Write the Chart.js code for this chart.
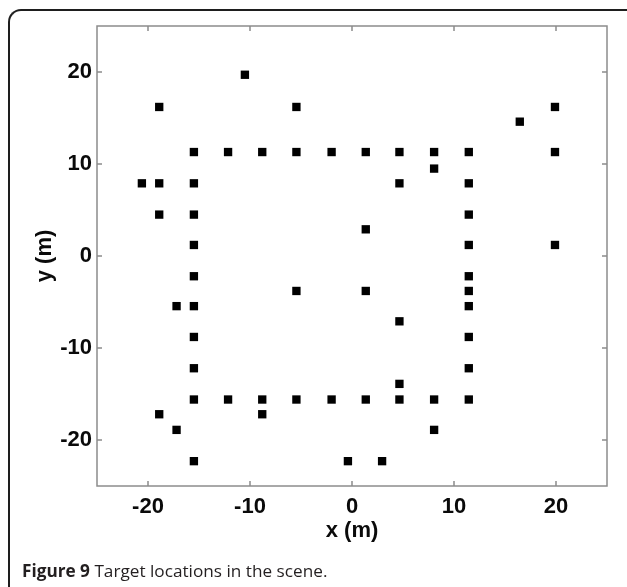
<!DOCTYPE html>
<html>
<head>
<meta charset="utf-8">
<script src="https://cdn.jsdelivr.net/npm/chart.js@4"></script>
<style>
  html, body { margin: 0; padding: 0; background: #ffffff; }
  body { width: 627px; height: 587px; overflow: hidden; position: relative; }
  .frame {
    position: absolute; left: 8px; top: 9px; width: 660px; height: 640px;
    border-left: 2px solid #1e1e1e; border-top: 2px solid #1e1e1e;
    border-top-left-radius: 13px;
  }
  #plot { position: absolute; left: 0; top: 0; }
  .caption {
    position: absolute; left: 22px; top: 559px;
    font-family: "Open Sans", "Noto Sans", sans-serif; font-size: 17.2px; color: #231f20;
    white-space: nowrap;
  }
  .caption b { font-weight: bold; }
</style>
</head>
<body>
<div class="frame"></div>
<canvas id="plot" width="627" height="587"></canvas>
<div class="caption"><b>Figure 9</b> Target locations in the scene.</div>
<script>
// target positions (m)
const xs = [
  -10.5,
  -18.9, -5.45, 19.9,
  16.45,
  -15.5, -12.15, -8.8, -5.45, -2.0, 1.35, 4.65, 8.05, 11.45, 19.9,
  8.05,
  -20.6, -18.9, -15.5, 4.65, 11.45,
  -18.9, -15.5, 11.45,
  1.35,
  -15.5, 11.45, 19.9,
  -15.5, 11.45,
  -5.45, 1.35, 11.45,
  -17.2, -15.5, 11.45,
  4.65,
  -15.5, 11.45,
  -15.5, 11.45,
  4.65,
  -15.5, -12.15, -8.8, -5.45, -2.0, 1.35, 4.65, 8.05, 11.45,
  -18.9, -8.8,
  -17.2, 8.05,
  -15.5, -0.4, 2.95
];
const ys = [
  19.7,
  16.2, 16.2, 16.2,
  14.6,
  11.3, 11.3, 11.3, 11.3, 11.3, 11.3, 11.3, 11.3, 11.3, 11.3,
  9.5,
  7.9, 7.9, 7.9, 7.9, 7.9,
  4.5, 4.5, 4.5,
  2.9,
  1.2, 1.2, 1.2,
  -2.2, -2.2,
  -3.8, -3.8, -3.8,
  -5.45, -5.45, -5.45,
  -7.1,
  -8.8, -8.8,
  -12.2, -12.2,
  -13.9,
  -15.6, -15.6, -15.6, -15.6, -15.6, -15.6, -15.6, -15.6, -15.6,
  -17.2, -17.2,
  -18.9, -18.9,
  -22.3, -22.3, -22.3
];
const xTicks = [-20, -10, 0, 10, 20];
const yTicks = [-20, -10, 0, 10, 20];
const xRange = [-25, 25];
const yRange = [-25, 25];

const points = xs.map((x, i) => ({ x: x, y: ys[i] }));

// matlab style box with inward ticks
const boxPlugin = {
  id: 'box',
  afterDatasetsDraw(chart) {
    const ctx = chart.ctx;
    const a = chart.chartArea;
    const sx = chart.scales.x, sy = chart.scales.y;
    ctx.save();
    ctx.strokeStyle = '#8c8c8c';
    ctx.lineWidth = 1.5;
    ctx.strokeRect(a.left, a.top, a.right - a.left, a.bottom - a.top);
    ctx.beginPath();
    xTicks.forEach(v => {
      const px = sx.getPixelForValue(v);
      ctx.moveTo(px, a.bottom); ctx.lineTo(px, a.bottom - 5);
      ctx.moveTo(px, a.top); ctx.lineTo(px, a.top + 5);
    });
    yTicks.forEach(v => {
      const py = sy.getPixelForValue(v);
      ctx.moveTo(a.left, py); ctx.lineTo(a.left + 5, py);
      ctx.moveTo(a.right, py); ctx.lineTo(a.right - 5, py);
    });
    ctx.stroke();
    ctx.restore();
  }
};

const tickFont = { family: '"Liberation Sans", Arial, sans-serif', size: 22, weight: 'bold' };

new Chart(document.getElementById('plot').getContext('2d'), {
  type: 'scatter',
  data: {
    datasets: [{
      data: points,
      pointStyle: 'rect',
      pointRadius: 5.9,
      pointHoverRadius: 5.9,
      backgroundColor: '#000000',
      borderWidth: 0
    }]
  },
  options: {
    responsive: false,
    devicePixelRatio: 1,
    animation: false,
    events: [],
    layout: { padding: { left: 0, top: 26, right: 20, bottom: 0 } },
    plugins: { legend: { display: false }, tooltip: { enabled: false } },
    scales: {
      x: {
        type: 'linear',
        min: xRange[0], max: xRange[1],
        afterBuildTicks: s => { s.ticks = xTicks.map(v => ({ value: v })); },
        afterFit: s => { s.height = 101; },
        grid: { display: false, drawTicks: false },
        border: { display: false },
        ticks: { color: '#0a0a0a', font: tickFont, padding: 8 },
        title: { display: true, text: 'x (m)', color: '#0a0a0a', font: tickFont, padding: { top: 0, bottom: 43 } }
      },
      y: {
        type: 'linear',
        min: yRange[0], max: yRange[1],
        afterBuildTicks: s => { s.ticks = yTicks.map(v => ({ value: v })); },
        afterFit: s => { s.width = 97; },
        grid: { display: false, drawTicks: false },
        border: { display: false },
        ticks: { color: '#0a0a0a', font: tickFont, padding: 5 },
        title: { display: true, text: 'y (m)', color: '#0a0a0a', font: tickFont, padding: { top: 32, bottom: 0 } }
      }
    }
  },
  plugins: [boxPlugin]
});
</script>
</body>
</html>
